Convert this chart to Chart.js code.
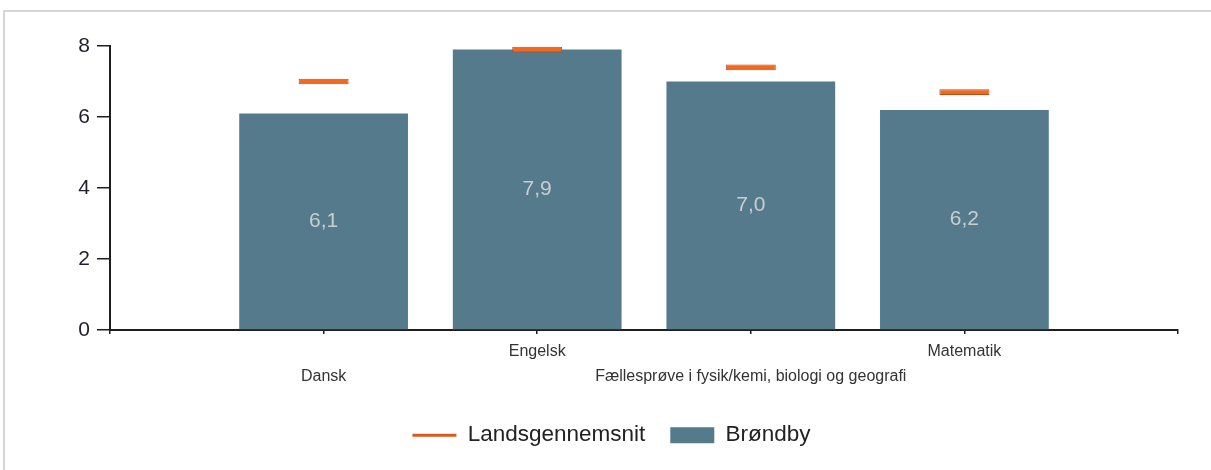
<!DOCTYPE html>
<html>
<head>
<meta charset="utf-8">
<script src="https://cdn.jsdelivr.net/npm/chart.js@4.4.1/dist/chart.umd.min.js"></script>
<style>
  html, body { margin: 0; padding: 0; background: #fff; }
  #wrap { position: relative; width: 1211px; height: 470px; overflow: hidden; }
  #frame { position: absolute; left: 3px; top: 10px; width: 1300px; height: 600px;
           border-top: 2px solid #d6d6d6; border-left: 2px solid #d6d6d6; }
  #c { position: absolute; left: 0; top: 0; }
</style>
</head>
<body>
<div id="wrap">
  <div id="frame"></div>
  <canvas id="c" width="1211" height="470"></canvas>
</div>
<script>
// ---- data ----
const subjects = ['Dansk', 'Engelsk', 'Fællesprøve i fysik/kemi, biologi og geografi', 'Matematik'];
const brondby = [6.1, 7.9, 7.0, 6.2];
const landsgennemsnit = [7.0, 7.9, 7.4, 6.7];
const yTicks = [0, 2, 4, 6, 8];
const seriesNames = ['Landsgennemsnit', 'Brøndby'];

// ---- styles ----
const BAR_COLOR = '#547a8c';
const AVG_FILL = '#f0691f';
const AVG_BORDER = '#c44c16';
const AVG_LEGEND = '#d95a1e';
const MARK_HALF = 0.08;
const FONT = '"Liberation Sans", Arial, sans-serif';

// category axis: empty slots at both ends, labels alternate between two rows
const labels = [''].concat(subjects.map((s, i) => (i % 2 === 0 ? ['', s] : [s, ''])), ['']);
const barData = [null].concat(brondby, [null]);
const avgData = [null].concat(landsgennemsnit.map(v => [v - MARK_HALF, v + MARK_HALF]), [null]);

const valueLabels = {
  id: 'valueLabels',
  afterDatasetsDraw(chart) {
    const meta = chart.getDatasetMeta(1);
    const ctx = chart.ctx;
    ctx.save();
    ctx.font = '21px ' + FONT;
    ctx.fillStyle = '#c8ced2';
    ctx.textAlign = 'center';
    ctx.textBaseline = 'middle';
    meta.data.forEach((el, i) => {
      const v = chart.data.datasets[1].data[i];
      if (v === null || v === undefined) return;
      ctx.fillText(v.toFixed(1).replace('.', ','), el.x, (el.y + el.base) / 2);
    });
    ctx.restore();
  }
};

new Chart(document.getElementById('c'), {
  type: 'bar',
  data: {
    labels: labels,
    datasets: [
      {
        label: seriesNames[0],
        data: avgData,
        backgroundColor: AVG_FILL,
        borderColor: AVG_BORDER,
        borderWidth: 1,
        borderSkipped: false,
        grouped: false,
        barPercentage: 0.234,
        categoryPercentage: 1,
        order: 0
      },
      {
        label: seriesNames[1],
        data: barData,
        backgroundColor: BAR_COLOR,
        borderWidth: 0,
        grouped: false,
        barPercentage: 0.79,
        categoryPercentage: 1,
        order: 1
      }
    ]
  },
  options: {
    responsive: false,
    animation: false,
    devicePixelRatio: 1,
    layout: { padding: { left: 45, right: 33, top: 46, bottom: 13.5 } },
    scales: {
      x: {
        type: 'category',
        offset: false,
        afterFit(scale) { scale.height = 69; },
        border: { display: true, color: '#1e1e1e', width: 2 },
        grid: { offset: false, drawOnChartArea: false, drawTicks: true, tickLength: 4, color: '#1e1e1e', lineWidth: 1.5 },
        ticks: {
          autoSkip: false, maxRotation: 0, minRotation: 0, padding: 5,
          color: '#333',
          font: { family: FONT, size: 16, lineHeight: 1.5625 }
        }
      },
      y: {
        min: 0, max: 8,
        afterFit(scale) { scale.width = 65; },
        afterBuildTicks(scale) { scale.ticks = yTicks.map(v => ({ value: v })); },
        border: { display: true, color: '#1e1e1e', width: 2 },
        grid: { drawOnChartArea: false, drawTicks: true, tickLength: 13, color: '#1e1e1e', lineWidth: 1.5 },
        ticks: {
          padding: 7,
          color: '#1f1f2a',
          font: { family: FONT, size: 21 }
        }
      }
    },
    plugins: {
      tooltip: { enabled: false },
      legend: {
        position: 'bottom',
        align: 'center',
        labels: {
          usePointStyle: true,
          pointStyleWidth: 44,
          boxWidth: 44,
          boxHeight: 16,
          padding: 25,
          color: '#222',
          font: { family: FONT, size: 22.5 },
          generateLabels(chart) {
            const items = Chart.defaults.plugins.legend.labels.generateLabels(chart);
            items.forEach(it => {
              if (it.datasetIndex === 0) {
                it.pointStyle = 'line';
                it.strokeStyle = AVG_LEGEND;
                it.fillStyle = AVG_LEGEND;
                it.lineWidth = 3;
              } else {
                it.pointStyle = 'rect';
                it.fillStyle = BAR_COLOR;
                it.lineWidth = 0;
              }
            });
            return items;
          }
        }
      }
    }
  },
  plugins: [valueLabels]
});
</script>
</body>
</html>
